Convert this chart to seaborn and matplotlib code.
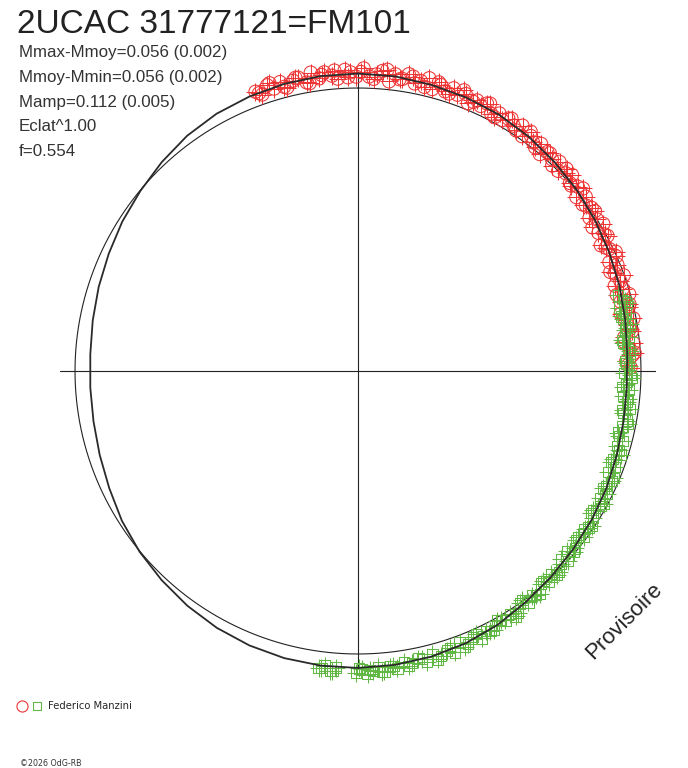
import numpy as np
import pandas as pd
import seaborn as sns
import matplotlib.pyplot as plt
from matplotlib.lines import Line2D
from matplotlib.legend_handler import HandlerTuple

TITLE = "2UCAC 31777121=FM101"
INFO_LINES = ["Mmax-Mmoy=0.056 (0.002)",
              "Mmoy-Mmin=0.056 (0.002)",
              "Mamp=0.112 (0.005)",
              "Eclat^1.00",
              "f=0.554"]
OBSERVER = "Federico Manzini"
STAMP = "\u00a92026 OdG-RB"
WATERMARK = "Provisoire"

# mean light curve, phase (cycles) vs. magnitude offset (outward = brighter)
fit_phase = [0.00, 0.02, 0.04, 0.06, 0.08, 0.10, 0.12, 0.14, 0.16, 0.18,
             0.20, 0.22, 0.24, 0.26, 0.28, 0.30, 0.32, 0.34, 0.36, 0.38,
             0.40, 0.42, 0.44, 0.46, 0.48, 0.50, 0.52, 0.54, 0.56, 0.58,
             0.60, 0.62, 0.64, 0.66, 0.68, 0.70, 0.72, 0.74, 0.76, 0.78,
             0.80, 0.82, 0.84, 0.86, 0.88, 0.90, 0.92, 0.94, 0.96, 0.98, 1.00]
fit_dmag = [0.056, 0.054, 0.048, 0.043, 0.037, 0.027, 0.015, 0.004, -0.008, -0.020,
            -0.031, -0.042, -0.051, -0.053, -0.049, -0.042, -0.032, -0.023, -0.014, -0.003,
            0.010, 0.026, 0.038, 0.046, 0.051, 0.054, 0.054, 0.052, 0.047, 0.039,
            0.028, 0.015, 0.002, -0.013, -0.031, -0.044, -0.053, -0.057, -0.057, -0.050,
            -0.040, -0.029, -0.015, -0.002, 0.014, 0.030, 0.041, 0.047, 0.052, 0.055, 0.056]

# first observer series (red circles)
red_phase = [0.944, 0.947, 0.951, 0.954, 0.958, 0.961, 0.965, 0.968, 0.972, 0.975,
             0.979, 0.982, 0.986, 0.989, 0.993, 0.996, 0.999, 0.003, 0.006, 0.010,
             0.013, 0.017, 0.020, 0.024, 0.027, 0.031, 0.034, 0.038, 0.041, 0.045,
             0.048, 0.052, 0.055, 0.059, 0.062, 0.066, 0.069, 0.073, 0.076, 0.080,
             0.083, 0.087, 0.090, 0.094, 0.097, 0.101, 0.104, 0.108, 0.111, 0.115,
             0.118, 0.122, 0.125, 0.129, 0.132, 0.136, 0.139, 0.143, 0.146, 0.150,
             0.153, 0.157, 0.160, 0.164, 0.167, 0.171, 0.174, 0.178, 0.181, 0.185,
             0.188, 0.192, 0.195, 0.199, 0.202, 0.206, 0.209, 0.213, 0.216, 0.220,
             0.223, 0.227, 0.230, 0.234, 0.237, 0.241, 0.244, 0.248,
             0.9455, 0.9525, 0.9595, 0.9665, 0.9735, 0.9805, 0.9875, 0.9945, 0.0015, 0.0085,
             0.0155, 0.0225, 0.0295, 0.0365, 0.0435, 0.0505, 0.0575, 0.0645, 0.0715, 0.0785,
             0.0855, 0.0925, 0.0995, 0.1065, 0.1135, 0.1205, 0.1275, 0.1345, 0.1415, 0.1485,
             0.1555, 0.1625, 0.1695, 0.1765, 0.1835, 0.1905, 0.1975, 0.2045, 0.2115, 0.2185,
             0.2255, 0.2325, 0.2395, 0.2465]
red_dmag = [0.056, 0.037, 0.065, 0.045, 0.063, 0.035, 0.056, 0.063, 0.039, 0.074,
            0.047, 0.068, 0.052, 0.039, 0.071, 0.061, 0.044, 0.076, 0.045, 0.055,
            0.070, 0.032, 0.062, 0.048, 0.070, 0.039, 0.053, 0.071, 0.033, 0.057,
            0.038, 0.060, 0.041, 0.055, 0.025, 0.049, 0.035, 0.059, 0.026, 0.042,
            0.025, 0.048, 0.029, 0.048, 0.013, 0.034, 0.019, 0.034, 0.000, 0.028,
            0.016, 0.029, 0.000, 0.015, 0.028, -0.002, 0.015, -0.015, 0.015, -0.005,
            0.008, -0.021, 0.000, 0.012, -0.022, 0.003, -0.037, -0.014, 0.004, -0.035,
            -0.010, -0.032, -0.002, -0.048, -0.022, -0.004, -0.044, -0.018, -0.055, -0.010,
            -0.038, -0.023, -0.057, -0.023, -0.041, -0.032, -0.056, -0.040,
            0.046, 0.070, 0.041, 0.065, 0.034, 0.059, 0.071, 0.042, 0.062, 0.037,
            0.076, 0.045, 0.064, 0.034, 0.065, 0.035, 0.066, 0.038, 0.054, 0.020,
            0.042, 0.019, 0.047, 0.009, 0.025, -0.001, 0.029, 0.001, 0.026, -0.013,
            0.011, -0.031, -0.004, -0.024, -0.002, -0.046, -0.022, -0.051, -0.013, -0.045,
            -0.030, -0.060, -0.022, -0.050]

# second observer series (green squares)
green_phase = [0.205, 0.209, 0.212, 0.216, 0.219, 0.223, 0.226, 0.230, 0.233, 0.237,
               0.240, 0.244, 0.247, 0.251, 0.254, 0.258, 0.261, 0.265, 0.268, 0.272,
               0.275, 0.279, 0.283, 0.287, 0.291, 0.295, 0.299, 0.303, 0.307, 0.311,
               0.315, 0.319, 0.323, 0.327, 0.331, 0.335, 0.339, 0.343, 0.347, 0.351,
               0.355, 0.359, 0.363, 0.367, 0.371, 0.375, 0.379, 0.383, 0.387, 0.391,
               0.395, 0.399, 0.403, 0.407, 0.411, 0.415, 0.419, 0.423, 0.427, 0.431,
               0.435, 0.439, 0.443, 0.447, 0.451, 0.455, 0.459, 0.463, 0.467, 0.471,
               0.475, 0.479, 0.483, 0.486, 0.489, 0.492, 0.495, 0.498, 0.501, 0.512,
               0.515, 0.518, 0.521,
               0.2105, 0.2175, 0.2245, 0.2315, 0.2385, 0.2455, 0.2525, 0.2595, 0.2665, 0.2735,
               0.2810, 0.2890, 0.2970, 0.3050, 0.3130, 0.3210, 0.3290, 0.3370, 0.3450, 0.3530,
               0.3610, 0.3690, 0.3770, 0.3850, 0.3930, 0.4010, 0.4090, 0.4170, 0.4250, 0.4330,
               0.4410, 0.4490, 0.4570, 0.4650, 0.4730, 0.4810, 0.4875, 0.4935, 0.4995, 0.5135,
               0.5195]
green_dmag = [-0.046, -0.028, -0.056, -0.036, -0.051, -0.029, -0.051, -0.037, -0.064, -0.048,
              -0.039, -0.059, -0.046, -0.066, -0.036, -0.057, -0.043, -0.064, -0.047, -0.033,
              -0.058, -0.037, -0.050, -0.061, -0.037, -0.050, -0.028, -0.050, -0.034, -0.052,
              -0.025, -0.037, -0.019, -0.037, -0.021, -0.037, -0.021, -0.008, -0.026, -0.010,
              -0.026, -0.010, -0.026, 0.002, -0.012, 0.004, -0.012, 0.005, -0.010, 0.018,
              0.005, 0.017, 0.002, 0.028, 0.013, 0.026, 0.011, 0.038, 0.026, 0.045,
              0.027, 0.043, 0.027, 0.057, 0.040, 0.052, 0.036, 0.061, 0.042, 0.053,
              0.046, 0.066, 0.055, 0.072, 0.052, 0.066, 0.076, 0.060, 0.072, 0.056,
              0.070, 0.052, 0.064,
              -0.023, -0.054, -0.042, -0.065, -0.040, -0.055, -0.040, -0.069, -0.044, -0.060,
              -0.032, -0.054, -0.039, -0.053, -0.023, -0.042, -0.014, -0.038, -0.017, -0.029,
              -0.003, -0.023, 0.009, -0.010, 0.012, -0.003, 0.034, 0.016, 0.033, 0.020,
              0.050, 0.035, 0.063, 0.046, 0.064, 0.055, 0.074, 0.063, 0.056, 0.070,
              0.062]

W, H = 688, 768
R_REF = 1.093   # radius of the mean-magnitude circle (mag units)
R_MAX = 1.151
INK = "#222222"
RED = "#ee3535"
GREEN = "#62b844"


def fx(px):
    return px / W


def fy(py):
    return 1 - py / H


def polar_frame(phase, dmag):
    return pd.DataFrame({"theta": 2 * np.pi * np.asarray(phase),
                         "r": R_REF + np.asarray(dmag)})


sns.set_style("white")
plt.rcParams["font.family"] = ["Liberation Sans", "DejaVu Sans"]

fig = plt.figure(figsize=(W / 100, H / 100), dpi=100)
ax = fig.add_axes([fx(60), fy(371 + 298), 596 / W, 596 / H], projection="polar")
ax.set_theta_zero_location("N")
ax.set_theta_direction(-1)

# axes cross and reference circle
for a in np.arange(4) * np.pi / 2:
    ax.axvline(a, color=INK, lw=0.8, zorder=1)
ring = np.linspace(0, 2 * np.pi, 721)
ax.plot(ring, np.full_like(ring, R_REF), color=INK, lw=0.8, zorder=1)

red = polar_frame(red_phase, red_dmag)
green = polar_frame(green_phase, green_dmag)
fit = polar_frame(fit_phase, fit_dmag)

sns.scatterplot(data=red, x="theta", y="r", ax=ax, marker="+", s=180,
                color=RED, linewidth=0.75, zorder=2, clip_on=False)
sns.scatterplot(data=red, x="theta", y="r", ax=ax, marker="o", s=90,
                color=RED, fc="none", ec=RED, linewidth=0.75, zorder=2, clip_on=False)
sns.scatterplot(data=green, x="theta", y="r", ax=ax, marker="+", s=180,
                color=GREEN, linewidth=0.75, zorder=2, clip_on=False)
sns.scatterplot(data=green, x="theta", y="r", ax=ax, marker="s", s=55,
                color=GREEN, fc="none", ec=GREEN, linewidth=0.75, zorder=2, clip_on=False)
sns.lineplot(data=fit, x="theta", y="r", ax=ax, sort=False, estimator=None,
             color="#2a2a2a", lw=1.3, zorder=3, clip_on=False)

ax.set_xlim(0, 2 * np.pi)
ax.set_rlim(0, R_MAX)
ax.set_xlabel("")
ax.set_ylabel("")
ax.grid(False)
ax.set_xticks([])
ax.set_yticks([])
ax.spines["polar"].set_visible(False)
ax.patch.set_visible(False)

# texts
fig.text(fx(17), fy(33), TITLE, fontsize=24, color=INK, va="baseline")
for line, base in zip(INFO_LINES, [57, 82, 107, 131, 156]):
    fig.text(fx(19), fy(base), line, fontsize=12.2, color="#333333", va="baseline")

fig.text(fx(624), fy(621), WATERMARK, fontsize=16, color=INK, rotation=45,
         ha="center", va="center", rotation_mode="anchor")

h_red = Line2D([], [], ls="none", marker="o", ms=8, mfc="none", mec=RED, mew=0.8)
h_green = Line2D([], [], ls="none", marker="s", ms=5.8, mfc="none", mec=GREEN, mew=0.8)
fig.legend([(h_red, h_green)], [OBSERVER],
           handler_map={tuple: HandlerTuple(ndivide=None, pad=0.4)},
           loc="center left", bbox_to_anchor=(fx(16), fy(706)), frameon=False,
           prop={"family": "DejaVu Sans", "size": 7.2}, handlelength=2.6,
           handletextpad=0.6, borderpad=0, borderaxespad=0)

fig.text(fx(20), fy(766), STAMP, fontsize=5.7, color="#333333",
         family="DejaVu Sans", va="baseline")

fig.savefig("out.png", dpi=100)
